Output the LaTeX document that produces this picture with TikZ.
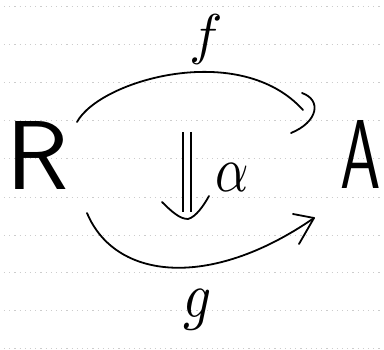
\documentclass[tikz,border=0pt]{standalone}
\usetikzlibrary{arrows.meta}
\begin{document}
\begin{tikzpicture}[x=1pt,y=-1pt,
  ruled/.style={draw=gray!40, line width=0.5pt, dash pattern=on 1.2pt off 4pt},
  ink/.style={line width=1.8pt, line cap=round, line join=round},
  letter/.style={inner sep=0pt, anchor=center}]
\useasboundingbox (0,0) rectangle (384,350);
\fill[white] (0,0) rectangle (384,350);
% notebook ruling
\foreach \yy in {6,44,82,120,158,197,235,272,310,348}
  \draw[ruled] (4,\yy) -- (382,\yy);
% objects
\node[letter, xscale=1.05] (R) at (38,155) {\fontsize{98}{100}\selectfont\sffamily R};
\node[letter, xscale=0.66] (A) at (361,154) {\fontsize{98}{100}\selectfont\sffamily A};
% labels
\node[letter, scale=5.6] (f) at (206,40) {$f$};
\node[letter, xscale=5.5, yscale=6.5] (g) at (198,310) {$g$};
\node[letter, xscale=5.2, yscale=6.5] (al) at (232,178) {$\alpha$};
% arc f
\coordinate (fs) at (77,122);
\coordinate (fe) at (303,110);
\draw[ink] (fs) .. controls (100,80) and (240,40) .. (fe);
\draw[ink] (302,93) .. controls (322,100) and (318,122) .. (291,133);
% arc g
\coordinate (gs) at (87,213);
\coordinate (ge) at (314,218);
\draw[ink] (gs) .. controls (115,280) and (210,290) .. (ge);
\draw[ink] (293,214) -- (ge) -- (299,244);
% double arrow alpha
\coordinate (at) at (187,132);
\coordinate (ab) at (187,212);
\draw[line width=1.8pt, double distance=6pt, line cap=butt] (at) -- (ab);
\draw[ink] (162,202) .. controls (172,212) and (180,219) .. (188,219) .. controls (196,217) and (204,205) .. (209,196);
\end{tikzpicture}
\end{document}
